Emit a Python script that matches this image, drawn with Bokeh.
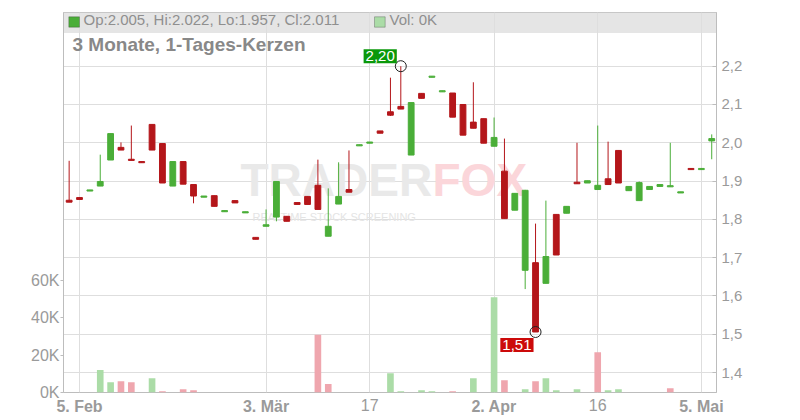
from bokeh.plotting import figure
from bokeh.models import (ColumnDataSource, Range1d, LinearAxis, FixedTicker,
                          CustomJSTickFormatter, BoxAnnotation, Label)
from bokeh.embed import file_html
from bokeh.resources import INLINE

# ---- data (daily candles, trading-day index 0 = 4 Feb) ----
opens = [1.850, 1.857, 1.874, 1.887, 1.955, 1.988, 1.957, 1.951, 2.048, 1.998,
         1.887, 1.951, 1.891, 1.858, 1.862, 1.820, 1.849, 1.817, 1.753, 1.782,
         1.806, 1.808, 1.844, 1.860, 1.889, 1.756, 1.840, 1.878, 1.992, 1.999,
         2.031, 2.081, 2.095, 1.968, 2.129, 2.171, 2.133, 2.130, 2.100, 2.054,
         2.063, 1.991, 1.926, 1.824, 1.667, 1.687, 1.633, 1.813, 1.816, 1.897,
         1.895, 1.878, 1.906, 1.980, 1.875, 1.849, 1.878, 1.886, 1.885, 1.869,
         1.933, 1.930, 2.005]
highs = [1.953, 1.857, 1.877, 1.969, 2.024, 2.001, 2.045, 1.951, 2.048, 1.998,
         1.951, 1.951, 1.891, 1.861, 1.862, 1.823, 1.849, 1.820, 1.753, 1.826,
         1.899, 1.808, 1.844, 1.860, 1.956, 1.881, 1.949, 1.980, 1.995, 2.002,
         2.031, 2.170, 2.200, 2.105, 2.129, 2.174, 2.136, 2.130, 2.100, 2.158,
         2.063, 2.066, 2.011, 1.868, 1.877, 1.789, 1.849, 1.813, 1.834, 2.000,
         1.901, 2.045, 2.003, 1.980, 1.886, 1.899, 1.886, 1.891, 2.000, 1.872,
         1.933, 1.933, 2.022]
lows = [1.845, 1.852, 1.874, 1.887, 1.955, 1.981, 1.954, 1.948, 1.981, 1.895,
        1.887, 1.892, 1.842, 1.858, 1.834, 1.820, 1.843, 1.817, 1.748, 1.782,
        1.795, 1.795, 1.839, 1.839, 1.826, 1.756, 1.840, 1.871, 1.992, 1.999,
        2.025, 2.070, 2.088, 1.968, 2.116, 2.171, 2.133, 2.067, 2.020, 2.038,
        1.999, 1.991, 1.802, 1.824, 1.618, 1.506, 1.633, 1.707, 1.816, 1.893,
        1.895, 1.878, 1.891, 1.895, 1.875, 1.849, 1.878, 1.886, 1.885, 1.869,
        1.930, 1.930, 1.957]
closes = [1.845, 1.852, 1.877, 1.899, 2.024, 1.981, 1.954, 1.948, 1.981, 1.895,
          1.951, 1.892, 1.861, 1.861, 1.834, 1.823, 1.843, 1.820, 1.748, 1.786,
          1.899, 1.795, 1.839, 1.839, 1.826, 1.782, 1.860, 1.871, 1.995, 2.002,
          2.025, 2.072, 2.088, 2.105, 2.116, 2.174, 2.136, 2.067, 2.020, 2.038,
          1.999, 2.014, 1.802, 1.868, 1.876, 1.506, 1.703, 1.707, 1.834, 1.893,
          1.901, 1.889, 1.891, 1.895, 1.886, 1.896, 1.886, 1.891, 1.888, 1.872,
          1.930, 1.933, 2.011]
volumes_k = [0, 0, 0, 12, 5.5, 6, 5.5, 0, 7.7, 0.7,
             0, 1.8, 1.2, 0, 0, 0, 0, 0, 0, 0,
             0, 0, 0, 0, 31, 4.5, 0, 0, 0, 0,
             0, 10.3, 0.7, 0, 1.2, 0.7, 0, 0.7, 0, 7.7,
             0, 51, 6.6, 0, 1.8, 6, 7.7, 1.2, 0, 1.8,
             0, 21.6, 1.2, 1.8, 0, 0, 0, 0, 2.3, 0,
             0, 0, 0]

tick_idx = [1, 19, 29, 41, 51, 61]
tick_labels = ["5. Feb", "3. Mär", "17", "2. Apr", "16", "5. Mai"]
tick_bold = [True, True, False, True, False, True]
price_ticks = [1.4, 1.5, 1.6, 1.7, 1.8, 1.9, 2.0, 2.1, 2.2]
vol_ticks = [0, 20, 40, 60]
title_text = "3 Monate, 1-Tages-Kerzen"

UP, DOWN = "#4aae38", "#b4161a"
VUP, VDOWN = "#abdca7", "#efa6ae"
FONT = "Liberation Sans"
GRAY = "#9a9a9a"
BORDER = "#bdbdbd"

n = len(opens)
xs = list(range(n))
cols = [UP if c >= o else DOWN for o, c in zip(opens, closes)]
vcols = [VUP if (i == 0 or closes[i] >= closes[i - 1]) else VDOWN for i in range(n)]
src = ColumnDataSource(dict(
    x=xs, o=opens, h=highs, l=lows, c=closes, v=volumes_k,
    top=[max(o, c) for o, c in zip(opens, closes)],
    bottom=[min(o, c) for o, c in zip(opens, closes)],
    color=cols, vcolor=vcols))

W, H = 800, 420
ML, MR, MT, MB = 63, 84, 12, 28
Y0, Y1 = 1.348, 2.3402

p = figure(width=W, height=H, x_range=Range1d(-0.545, 62.46),
           y_range=Range1d(Y0, Y1), y_axis_location="right",
           output_backend="svg", toolbar_location=None,
           min_border_left=ML, min_border_right=MR,
           min_border_top=MT, min_border_bottom=MB)
p.extra_y_ranges = {"vol": Range1d(0, 203.6)}
p.background_fill_color = "white"
p.outline_line_color = BORDER

# price axis (right)
pax = p.right[0]
pax.ticker = FixedTicker(ticks=price_ticks)
pax.formatter = CustomJSTickFormatter(code="return tick.toFixed(1).replace('.', ',');")
pax.axis_line_color = BORDER
pax.major_tick_line_color = BORDER
pax.major_tick_in = 4
pax.major_tick_out = 0
pax.minor_tick_line_color = None
pax.major_label_standoff = 5
pax.major_label_text_font = FONT
pax.major_label_text_font_size = "15px"
pax.major_label_text_color = GRAY

# volume axis (left)
vax = LinearAxis(y_range_name="vol", ticker=FixedTicker(ticks=vol_ticks),
                 formatter=CustomJSTickFormatter(code="return tick.toFixed(0) + 'K';"))
vax.axis_line_color = BORDER
vax.major_tick_line_color = BORDER
vax.major_tick_in = 0
vax.major_tick_out = 3
vax.minor_tick_line_color = None
vax.major_label_standoff = 1
vax.major_label_text_font = FONT
vax.major_label_text_font_size = "16px"
vax.major_label_text_color = GRAY
p.add_layout(vax, "left")


def style_date_axis(ax, ticks, labels, bold, standoff):
    ax.ticker = FixedTicker(ticks=ticks)
    ax.major_label_overrides = {t: s for t, s in zip(ticks, labels)}
    ax.axis_line_color = None
    ax.major_tick_line_color = None
    ax.major_tick_in = 0
    ax.major_tick_out = 0
    ax.minor_tick_line_color = None
    ax.major_label_standoff = standoff
    ax.major_label_text_font = FONT
    ax.major_label_text_font_size = "16px"
    ax.major_label_text_font_style = "bold" if bold else "normal"
    ax.major_label_text_color = GRAY


bold_t = [t for t, b in zip(tick_idx, tick_bold) if b]
bold_l = [s for s, b in zip(tick_labels, tick_bold) if b]
norm_t = [t for t, b in zip(tick_idx, tick_bold) if not b]
norm_l = [s for s, b in zip(tick_labels, tick_bold) if not b]
style_date_axis(p.below[0], bold_t, bold_l, True, 5)
xax2 = LinearAxis()
# second axis stacks below the first one; a negative standoff lifts its labels
# back onto the same line as the first axis' labels
style_date_axis(xax2, norm_t, norm_l, False, -19)
p.add_layout(xax2, "below")

p.xgrid.ticker = FixedTicker(ticks=tick_idx)
p.ygrid.ticker = FixedTicker(ticks=price_ticks)
p.xgrid.grid_line_color = "#dedede"
p.ygrid.grid_line_color = "#dedede"

# header band
p.add_layout(BoxAnnotation(bottom=359.5, bottom_units="screen", fill_color="#e5e5e5",
                           fill_alpha=1, line_alpha=0, level="image"))

# watermark
p.add_layout(Label(x=177, y=187, x_units="screen", y_units="screen", text="TRADER",
                   text_font=FONT, text_font_style="bold", text_font_size="46px",
                   text_color="#e9e9e9", level="underlay"))
p.add_layout(Label(x=369, y=187, x_units="screen", y_units="screen", text="FOX",
                   text_font=FONT, text_font_style="bold", text_font_size="46px",
                   text_color="#fbd6da", level="underlay"))
p.add_layout(Label(x=189, y=170, x_units="screen", y_units="screen",
                   text="REALTIME STOCK SCREENING",
                   text_font=FONT, text_font_size="11px",
                   text_color="#e4e4e4", level="underlay"))

# volume bars
p.vbar(x="x", top="v", bottom=0, width=0.64, fill_color="vcolor", line_color=None,
       y_range_name="vol", source=src)
# candles
p.segment(x0="x", y0="l", x1="x", y1="h", line_color="color", line_width=1, source=src)
p.vbar(x="x", top="top", bottom="bottom", width=0.56, fill_color="color",
       line_color="color", line_width=1, source=src)

# max / min markers
imax = max(range(n), key=lambda i: highs[i])
imin = min(range(n), key=lambda i: lows[i])
p.scatter(x=[imax, imin], y=[highs[imax], lows[imin]], marker="circle", size=11,
          fill_alpha=0, line_color="#222222", line_width=1)
p.add_layout(Label(x=imax, y=highs[imax], text=f"{highs[imax]:.2f}".replace(".", ","),
                   text_align="right", text_baseline="bottom", x_offset=-4, y_offset=3,
                   text_font=FONT, text_font_size="15px", text_color="white",
                   background_fill_color="#0a980a", padding=2))
p.add_layout(Label(x=imin, y=lows[imin], text=f"{lows[imin]:.2f}".replace(".", ","),
                   text_align="right", text_baseline="top", x_offset=-2, y_offset=-6,
                   text_font=FONT, text_font_size="15px", text_color="white",
                   background_fill_color="#cc0a0a", padding=2))

# header legend
p.add_layout(BoxAnnotation(left=5.3, right=16, bottom=365.3, top=375.7,
                           left_units="screen", right_units="screen",
                           bottom_units="screen", top_units="screen",
                           fill_color=cols[-1], fill_alpha=1, line_color="#333333", line_width=1))
legend_text = f"Op:{opens[-1]:.3f}, Hi:{highs[-1]:.3f}, Lo:{lows[-1]:.3f}, Cl:{closes[-1]:.3f}"
p.add_layout(Label(x=20, y=364.7, x_units="screen", y_units="screen", text=legend_text,
                   text_font=FONT, text_font_size="15px", text_color="#8f8f8f"))
p.add_layout(BoxAnnotation(left=311, right=321.7, bottom=365.3, top=375.7,
                           left_units="screen", right_units="screen",
                           bottom_units="screen", top_units="screen",
                           fill_color=VUP, fill_alpha=1, line_color="#333333", line_width=1))
p.add_layout(Label(x=326, y=364.7, x_units="screen", y_units="screen",
                   text=f"Vol: {volumes_k[-1]:.0f}K",
                   text_font=FONT, text_font_size="15px", text_color="#8f8f8f"))
p.add_layout(Label(x=9, y=337.7, x_units="screen", y_units="screen", text=title_text,
                   text_font=FONT, text_font_style="bold", text_font_size="19px",
                   text_color="#888888"))

open("out.html", "w").write(file_html(p, INLINE))
